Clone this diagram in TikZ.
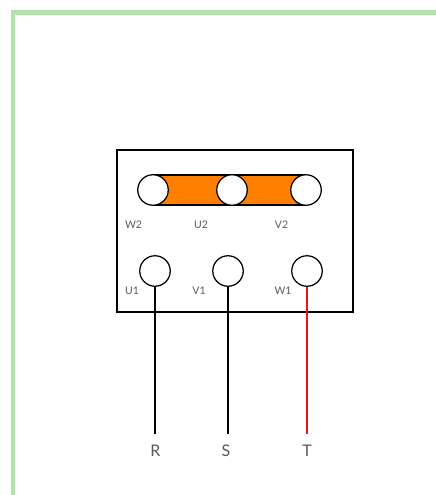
\documentclass[tikz,border=0pt]{standalone}
\usepackage{fontspec}
\setmainfont{Lato}
\definecolor{gborder}{HTML}{B3E2AD}
\definecolor{orangefill}{HTML}{FF8000}
\definecolor{lab}{HTML}{5A5A5A}
\definecolor{wirered}{HTML}{E8141C}
\tikzset{
  terminal/.style={circle,draw=black,fill=white,line width=1.25pt,minimum size=30.5pt,inner sep=0pt},
  wire/.style={line width=1.3pt,draw=black},
  tinylab/.style={text=lab,font=\fontsize{10.5}{12}\selectfont,inner sep=0pt,anchor=center},
  phaselab/.style={text=lab,font=\fontsize{16}{18}\selectfont,inner sep=0pt,anchor=center},
}
\begin{document}
\begin{tikzpicture}[x=1pt,y=-1pt,line join=miter]
\useasboundingbox (0,0) rectangle (436,495);
\fill[white] (0,0) rectangle (436,495);
% page frame
\draw[gborder,line width=4.5pt] (13,495) -- (13,12.5) -- (436,12.5);
% box
\draw[line width=1.15pt] (117,150) rectangle (353,312);
\draw[line width=2.2pt] (353,195) -- (353,213);
\draw[line width=2.2pt] (117,277) -- (117,287);
% orange link
\draw[fill=orangefill,line width=1.25pt] (153,175) -- (306,175) -- (306,205) -- (153,205) -- cycle;
% terminals
\node[terminal] (w2) at (153,190) {};
\node[terminal] (u2) at (232,190) {};
\node[terminal] (v2) at (306,190) {};
\node[terminal] (u1) at (155,271) {};
\node[terminal] (v1) at (228,271) {};
\node[terminal] (w1) at (307,271) {};
% wire ends
\coordinate (re) at (155,434);
\coordinate (se) at (228,434);
\coordinate (te) at (307,434);
\draw[wire] (u1.south) -- (re);
\draw[wire] (v1.south) -- (se);
\draw[wire,draw=wirered] (w1.south) -- (te);
% labels
\node[tinylab] (lw2) at (133.5,224.5) {W2};
\node[tinylab] (lu2) at (201,224.5) {U2};
\node[tinylab] (lv2) at (281.5,224.5) {V2};
\node[tinylab] (lu1) at (132,290.5) {U1};
\node[tinylab] (lv1) at (199,290.5) {V1};
\node[tinylab] (lw1) at (283,290.5) {W1};
\node[phaselab] (r) at (155.5,451) {R};
\node[phaselab] (s) at (226,451) {S};
\node[phaselab] (t) at (307,451) {T};
\end{tikzpicture}
\end{document}
